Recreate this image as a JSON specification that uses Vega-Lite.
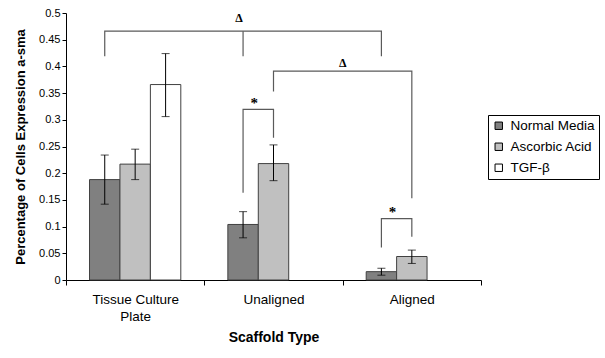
{
  "$schema": "https://vega.github.io/schema/vega-lite/v6.json",
  "width": 415,
  "height": 267,
  "autosize": "none",
  "padding": {"left": 66, "top": 13, "right": 124, "bottom": 78},
  "background": "white",
  "config": {
    "view": {"stroke": null},
    "font": "Liberation Sans",
    "axis": {"domainColor": "black", "tickColor": "black", "labelColor": "black", "titleColor": "black", "grid": false}
  },
  "datasets": {
    "bars": [
      {"scaffold": "Tissue Culture Plate", "treatment": "Normal Media", "value": 0.188, "lo": 0.142, "hi": 0.234},
      {"scaffold": "Tissue Culture Plate", "treatment": "Ascorbic Acid", "value": 0.217, "lo": 0.188, "hi": 0.245},
      {"scaffold": "Tissue Culture Plate", "treatment": "TGF-β", "value": 0.366, "lo": 0.306, "hi": 0.424},
      {"scaffold": "Unaligned", "treatment": "Normal Media", "value": 0.104, "lo": 0.079, "hi": 0.128},
      {"scaffold": "Unaligned", "treatment": "Ascorbic Acid", "value": 0.218, "lo": 0.186, "hi": 0.253},
      {"scaffold": "Aligned", "treatment": "Normal Media", "value": 0.0156, "lo": 0.009, "hi": 0.022},
      {"scaffold": "Aligned", "treatment": "Ascorbic Acid", "value": 0.044, "lo": 0.031, "hi": 0.056}
    ],
    "brackets": [
      {"id": "A", "k": 1, "scaffold": "Tissue Culture Plate", "treatment": "Normal Media", "y": 0.419},
      {"id": "A", "k": 2, "scaffold": "Tissue Culture Plate", "treatment": "Normal Media", "y": 0.466},
      {"id": "A", "k": 3, "scaffold": "Aligned", "treatment": "Normal Media", "y": 0.466},
      {"id": "A", "k": 4, "scaffold": "Aligned", "treatment": "Normal Media", "y": 0.419},
      {"id": "A2", "k": 1, "scaffold": "Unaligned", "treatment": "Normal Media", "y": 0.466},
      {"id": "A2", "k": 2, "scaffold": "Unaligned", "treatment": "Normal Media", "y": 0.419},
      {"id": "B", "k": 1, "scaffold": "Unaligned", "treatment": "Ascorbic Acid", "y": 0.353},
      {"id": "B", "k": 2, "scaffold": "Unaligned", "treatment": "Ascorbic Acid", "y": 0.391},
      {"id": "B", "k": 3, "scaffold": "Aligned", "treatment": "Ascorbic Acid", "y": 0.391},
      {"id": "B", "k": 4, "scaffold": "Aligned", "treatment": "Ascorbic Acid", "y": 0.153},
      {"id": "C", "k": 1, "scaffold": "Unaligned", "treatment": "Normal Media", "y": 0.1635},
      {"id": "C", "k": 2, "scaffold": "Unaligned", "treatment": "Normal Media", "y": 0.3196},
      {"id": "C", "k": 3, "scaffold": "Unaligned", "treatment": "Ascorbic Acid", "y": 0.3196},
      {"id": "C", "k": 4, "scaffold": "Unaligned", "treatment": "Ascorbic Acid", "y": 0.2665},
      {"id": "D", "k": 1, "scaffold": "Aligned", "treatment": "Normal Media", "y": 0.061},
      {"id": "D", "k": 2, "scaffold": "Aligned", "treatment": "Normal Media", "y": 0.115},
      {"id": "D", "k": 3, "scaffold": "Aligned", "treatment": "Ascorbic Acid", "y": 0.115},
      {"id": "D", "k": 4, "scaffold": "Aligned", "treatment": "Ascorbic Acid", "y": 0.081}
    ],
    "labels": [
      {"group": "delta1", "label": "Δ", "scaffold": "Unaligned", "y": 0.483},
      {"group": "delta2", "label": "Δ", "scaffold": "Aligned", "y": 0.398},
      {"group": "star", "label": "*", "scaffold": "Unaligned", "y": 0.322},
      {"group": "star", "label": "*", "scaffold": "Aligned", "y": 0.118}
    ]
  },
  "encoding": {
    "y": {
      "type": "quantitative",
      "scale": {"domain": [0, 0.5], "nice": false},
      "title": "Percentage of Cells Expression a-sma",
      "axis": {
        "values": [0, 0.05, 0.1, 0.15, 0.2, 0.25, 0.3, 0.35, 0.4, 0.45, 0.5],
        "format": "~g", "tickSize": 4, "labelPadding": 2, "labelFontSize": 11, "labelOverlap": false,
        "titleFontSize": 13, "titleFontWeight": "bold", "titlePadding": 11
      }
    }
  },
  "layer": [
    {
      "data": {"name": "bars"},
      "mark": {"type": "bar", "stroke": "#404040", "strokeWidth": 1},
      "encoding": {
        "x": {
          "field": "scaffold", "type": "nominal",
          "sort": ["Tissue Culture Plate", "Unaligned", "Aligned"],
          "scale": {"paddingInner": 0, "paddingOuter": 0},
          "title": "Scaffold Type",
          "axis": {
            "labelAngle": 0, "tickBand": "extent", "tickSize": 5, "labelPadding": 7,
            "labelFontSize": 13.5, "labelLineHeight": 17, "labelBaseline": "top",
            "labelExpr": "datum.label == 'Tissue Culture Plate' ? ['Tissue Culture', 'Plate'] : datum.label",
            "titleFontSize": 14, "titleFontWeight": "bold", "titlePadding": 8
          }
        },
        "xOffset": {
          "field": "treatment", "type": "nominal",
          "sort": ["Normal Media", "Ascorbic Acid", "TGF-β"],
          "scale": {"domain": ["Normal Media", "Ascorbic Acid", "TGF-β"], "paddingInner": 0, "paddingOuter": 0.773}
        },
        "y": {
          "field": "value", "type": "quantitative",
          "scale": {"domain": [0, 0.5], "nice": false},
          "title": "Percentage of Cells Expression a-sma",
          "axis": {
            "values": [0, 0.05, 0.1, 0.15, 0.2, 0.25, 0.3, 0.35, 0.4, 0.45, 0.5],
            "format": "~g", "tickSize": 4, "labelPadding": 2, "labelFontSize": 11, "labelOverlap": false,
            "titleFontSize": 13, "titleFontWeight": "bold", "titlePadding": 11
          }
        },
        "color": {
          "field": "treatment", "type": "nominal",
          "scale": {"domain": ["Normal Media", "Ascorbic Acid", "TGF-β"], "range": ["#808080", "#c0c0c0", "#ffffff"]},
          "legend": {
            "title": null, "orient": "none", "legendX": 422, "legendY": 102,
            "strokeColor": "black", "fillColor": "white", "padding": 4, "rowPadding": 6,
            "symbolType": "square", "symbolSize": 55, "symbolStrokeColor": "#000000", "symbolStrokeWidth": 1,
            "labelFontSize": 13.5, "labelColor": "black", "labelOffset": 5
          }
        }
      }
    },
    {
      "data": {"name": "bars"},
      "mark": {"type": "rule", "color": "black", "strokeWidth": 1},
      "encoding": {
        "x": {"field": "scaffold", "type": "nominal", "sort": ["Tissue Culture Plate", "Unaligned", "Aligned"]},
        "xOffset": {"field": "treatment", "type": "nominal", "sort": ["Normal Media", "Ascorbic Acid", "TGF-β"]},
        "y": {"field": "lo"},
        "y2": {"field": "hi"}
      }
    },
    {
      "data": {"name": "bars"},
      "mark": {"type": "tick", "color": "black", "thickness": 1, "size": 8, "orient": "horizontal"},
      "encoding": {
        "x": {"field": "scaffold", "type": "nominal", "sort": ["Tissue Culture Plate", "Unaligned", "Aligned"]},
        "xOffset": {"field": "treatment", "type": "nominal", "sort": ["Normal Media", "Ascorbic Acid", "TGF-β"]},
        "y": {"field": "hi"}
      }
    },
    {
      "data": {"name": "bars"},
      "mark": {"type": "tick", "color": "black", "thickness": 1, "size": 8, "orient": "horizontal"},
      "encoding": {
        "x": {"field": "scaffold", "type": "nominal", "sort": ["Tissue Culture Plate", "Unaligned", "Aligned"]},
        "xOffset": {"field": "treatment", "type": "nominal", "sort": ["Normal Media", "Ascorbic Acid", "TGF-β"]},
        "y": {"field": "lo"}
      }
    },
    {
      "data": {"name": "brackets"},
      "mark": {"type": "line", "color": "#5a5a5a", "strokeWidth": 1.2},
      "encoding": {
        "x": {"field": "scaffold", "type": "nominal", "sort": ["Tissue Culture Plate", "Unaligned", "Aligned"]},
        "xOffset": {"field": "treatment", "type": "nominal", "sort": ["Normal Media", "Ascorbic Acid", "TGF-β"]},
        "y": {"field": "y"},
        "detail": {"field": "id", "type": "nominal"},
        "order": {"field": "k", "type": "quantitative"}
      }
    },
    {
      "data": {"name": "labels"},
      "transform": [{"filter": "datum.group == 'delta1'"}],
      "mark": {"type": "text", "font": "Liberation Serif", "fontWeight": "bold", "fontSize": 12, "baseline": "alphabetic", "color": "black"},
      "encoding": {
        "x": {"field": "scaffold", "type": "nominal", "bandPosition": 0.25, "sort": ["Tissue Culture Plate", "Unaligned", "Aligned"]},
        "y": {"field": "y"},
        "text": {"field": "label"}
      }
    },
    {
      "data": {"name": "labels"},
      "transform": [{"filter": "datum.group == 'delta2'"}],
      "mark": {"type": "text", "font": "Liberation Serif", "fontWeight": "bold", "fontSize": 12, "baseline": "alphabetic", "color": "black"},
      "encoding": {
        "x": {"field": "scaffold", "type": "nominal", "bandPosition": 0, "sort": ["Tissue Culture Plate", "Unaligned", "Aligned"]},
        "y": {"field": "y"},
        "text": {"field": "label"}
      }
    },
    {
      "data": {"name": "labels"},
      "transform": [{"filter": "datum.group == 'star'"}],
      "mark": {"type": "text", "font": "Liberation Serif", "fontWeight": "bold", "fontSize": 15, "baseline": "alphabetic", "color": "black"},
      "encoding": {
        "x": {"field": "scaffold", "type": "nominal", "bandPosition": 0.36, "sort": ["Tissue Culture Plate", "Unaligned", "Aligned"]},
        "y": {"field": "y"},
        "text": {"field": "label"}
      }
    }
  ]
}
